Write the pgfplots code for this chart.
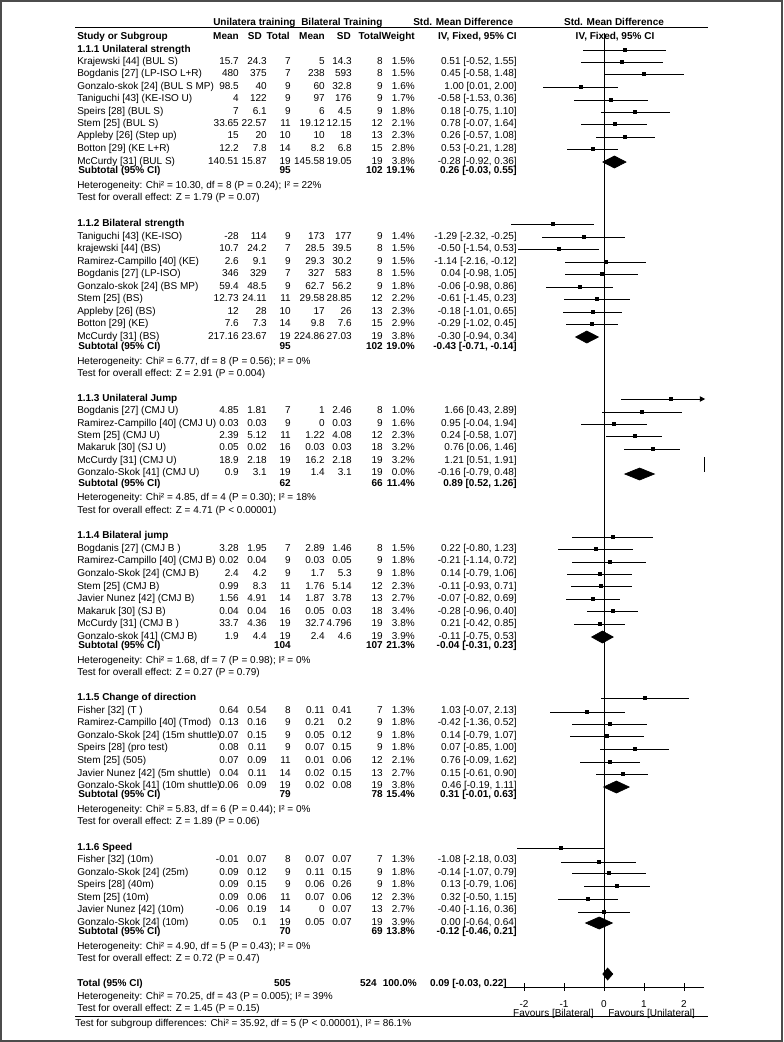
\documentclass[border=0pt]{standalone}
\usepackage{fontspec}
\setmainfont{Liberation Sans}
\usepackage{pgfplots}
\pgfplotsset{compat=1.18}
\usepackage{pgfplotstable}
\usetikzlibrary{arrows.meta}
\newcommand\fs{\fontsize{7.5pt}{9pt}\selectfont}
\newcommand\fb{\fontsize{7.5pt}{9pt}\selectfont\bfseries}

% study rows of the forest plot: y (pixel row), estimate, lower, upper
\pgfplotstableread{
y est lo hi
50 0.51 -0.52 1.55
62 0.45 -0.58 1.48
74 1.00 0.01 2.00
87 -0.58 -1.53 0.36
100 0.18 -0.75 1.10
112 0.78 -0.07 1.64
124 0.26 -0.57 1.08
137 0.53 -0.21 1.28
149 -0.28 -0.92 0.36
224 -1.29 -2.32 -0.25
237 -0.50 -1.54 0.53
249 -1.14 -2.16 -0.12
262 0.04 -0.98 1.05
274 -0.06 -0.98 0.86
287 -0.61 -1.45 0.23
299 -0.18 -1.01 0.65
312 -0.29 -1.02 0.45
324 -0.30 -0.94 0.34
412 0.95 -0.04 1.94
424 0.24 -0.58 1.07
436 0.76 0.06 1.46
449 1.21 0.51 1.91
537 0.22 -0.80 1.23
549 -0.21 -1.14 0.72
562 0.14 -0.79 1.06
574 -0.11 -0.93 0.71
586 -0.07 -0.82 0.69
599 -0.28 -0.96 0.40
611 0.21 -0.42 0.85
624 -0.11 -0.75 0.53
698 1.03 -0.07 2.13
712 -0.42 -1.36 0.52
724 0.14 -0.79 1.07
736 0.07 -0.85 1.00
749 0.76 -0.09 1.62
762 0.15 -0.61 0.90
774 0.46 -0.19 1.11
848 -1.08 -2.18 0.03
862 -0.14 -1.07 0.79
873 0.13 -0.79 1.06
886 0.32 -0.50 1.15
899 -0.40 -1.16 0.36
912 0.00 -0.64 0.64
}\studies

\newcommand\st[9]{%
  \def\yy{#1}%
  \node[anchor=base west] at (77,#1+3.7) {#2};
  \node[anchor=base east] at (239,#1+3.7) {#3};
  \node[anchor=base east] at (267,#1+3.7) {#4};
  \node[anchor=base east] at (291,#1+3.7) {#5};
  \node[anchor=base east] at (325,#1+3.7) {#6};
  \node[anchor=base east] at (352,#1+3.7) {#7};
  \node[anchor=base east] at (383,#1+3.7) {#8};
  \node[anchor=base east] at (415,#1+3.7) {#9};
  \stci}
\newcommand\stci[1]{\node[anchor=base east] at (517,\yy+3.7) {#1};}
\newcommand\sub[5]{%
  \node[anchor=base west,font=\fb] at (78,#1+3.7) {Subtotal (95\% CI)};
  \node[anchor=base east,font=\fb] at (291,#1+3.7) {#2};
  \node[anchor=base east,font=\fb] at (383,#1+3.7) {#3};
  \node[anchor=base east,font=\fb] at (415,#1+3.7) {#4};
  \node[anchor=base east,font=\fb] at (517,#1+3.7) {#5};}
\newcommand\lab[2]{\node[anchor=base west] at (77,#1+3.7) {#2};}
\newcommand\hdr[2]{\node[anchor=base west,font=\fb] at (77,#1+3.7) {#2};}

\begin{document}
\begin{tikzpicture}[x=0.75pt,y=-0.75pt,every node/.style={inner sep=0pt,font=\fs}]
\useasboundingbox (0,0) rectangle (783,1042);
\fill[white] (0,0) rectangle (783,1042);
\draw[line width=1.5pt, black!70] (1,1) rectangle (782,1041);

% headers
\node[anchor=base west,font=\fb] at (213,22+3.7) {Unilatera training};
\node[anchor=base west,font=\fb] at (301,22+3.7) {Bilateral Training};
\node[anchor=base west,font=\fb] at (413,22+3.7) {Std. Mean Difference};
\node[anchor=base,font=\fb] at (614,22+3.7) {Std. Mean Difference};
\draw[line width=0.9pt] (75,27.5) -- (708,27.5);
\node[anchor=base west,font=\fb] at (77,36+3.7) {Study or Subgroup};
\node[anchor=base east,font=\fb] at (239,36+3.7) {Mean};
\node[anchor=base east,font=\fb] at (262,36+3.7) {SD};
\node[anchor=base east,font=\fb] at (290,36+3.7) {Total};
\node[anchor=base east,font=\fb] at (325,36+3.7) {Mean};
\node[anchor=base east,font=\fb] at (351,36+3.7) {SD};
\node[anchor=base east,font=\fb] at (382,36+3.7) {Total};
\node[anchor=base east,font=\fb] at (415,36+3.7) {Weight};
\node[anchor=base east,font=\fb] at (517,36+3.7) {IV, Fixed, 95\% CI};
\node[anchor=base,font=\fb] at (615,36+3.7) {IV, Fixed, 95\% CI};

% 1.1.1
\hdr{48.5}{1.1.1 Unilateral strength}
\st{61}{Krajewski [44] (BUL S)}{15.7}{24.3}{7}{5}{14.3}{8}{1.5\%}{0.51 [-0.52, 1.55]}
\st{73}{Bogdanis [27] (LP-ISO L+R)}{480}{375}{7}{238}{593}{8}{1.5\%}{0.45 [-0.58, 1.48]}
\st{86}{Gonzalo-skok [24] (BUL S MP)}{98.5}{40}{9}{60}{32.8}{9}{1.6\%}{1.00 [0.01, 2.00]}
\st{98}{Taniguchi [43] (KE-ISO U)}{4}{122}{9}{97}{176}{9}{1.7\%}{-0.58 [-1.53, 0.36]}
\st{110.5}{Speirs [28] (BUL S)}{7}{6.1}{9}{6}{4.5}{9}{1.8\%}{0.18 [-0.75, 1.10]}
\st{123}{Stem [25] (BUL S)}{33.65}{22.57}{11}{19.12}{12.15}{12}{2.1\%}{0.78 [-0.07, 1.64]}
\st{135}{Appleby [26] (Step up)}{15}{20}{10}{10}{18}{13}{2.3\%}{0.26 [-0.57, 1.08]}
\st{148}{Botton [29] (KE L+R)}{12.2}{7.8}{14}{8.2}{6.8}{15}{2.8\%}{0.53 [-0.21, 1.28]}
\st{161}{McCurdy [31] (BUL S)}{140.51}{15.87}{19}{145.58}{19.05}{19}{3.8\%}{-0.28 [-0.92, 0.36]}
\sub{170}{95}{102}{19.1\%}{0.26 [-0.03, 0.55]}
\lab{185}{Heterogeneity: Chi² = 10.30, df = 8 (P = 0.24); I² = 22\%}
\lab{197}{Test for overall effect: Z = 1.79 (P = 0.07)}

% 1.1.2
\hdr{223}{1.1.2 Bilateral strength}
\st{235.5}{Taniguchi [43] (KE-ISO)}{-28}{114}{9}{173}{177}{9}{1.4\%}{-1.29 [-2.32, -0.25]}
\st{248}{krajewski [44] (BS)}{10.7}{24.2}{7}{28.5}{39.5}{8}{1.5\%}{-0.50 [-1.54, 0.53]}
\st{261}{Ramirez-Campillo [40] (KE)}{2.6}{9.1}{9}{29.3}{30.2}{9}{1.5\%}{-1.14 [-2.16, -0.12]}
\st{273}{Bogdanis [27] (LP-ISO)}{346}{329}{7}{327}{583}{8}{1.5\%}{0.04 [-0.98, 1.05]}
\st{286}{Gonzalo-skok [24] (BS MP)}{59.4}{48.5}{9}{62.7}{56.2}{9}{1.8\%}{-0.06 [-0.98, 0.86]}
\st{298}{Stem [25] (BS)}{12.73}{24.11}{11}{29.58}{28.85}{12}{2.2\%}{-0.61 [-1.45, 0.23]}
\st{310.5}{Appleby [26] (BS)}{12}{28}{10}{17}{26}{13}{2.3\%}{-0.18 [-1.01, 0.65]}
\st{323}{Botton [29] (KE)}{7.6}{7.3}{14}{9.8}{7.6}{15}{2.9\%}{-0.29 [-1.02, 0.45]}
\st{335.5}{McCurdy [31] (BS)}{217.16}{23.67}{19}{224.86}{27.03}{19}{3.8\%}{-0.30 [-0.94, 0.34]}
\sub{345.5}{95}{102}{19.0\%}{-0.43 [-0.71, -0.14]}
\lab{360.5}{Heterogeneity: Chi² = 6.77, df = 8 (P = 0.56); I² = 0\%}
\lab{372.5}{Test for overall effect: Z = 2.91 (P = 0.004)}

% 1.1.3
\hdr{397.5}{1.1.3 Unilateral Jump}
\st{410}{Bogdanis [27] (CMJ U)}{4.85}{1.81}{7}{1}{2.46}{8}{1.0\%}{1.66 [0.43, 2.89]}
\st{422.5}{Ramirez-Campillo [40] (CMJ U)}{0.03}{0.03}{9}{0}{0.03}{9}{1.6\%}{0.95 [-0.04, 1.94]}
\st{435}{Stem [25] (CMJ U)}{2.39}{5.12}{11}{1.22}{4.08}{12}{2.3\%}{0.24 [-0.58, 1.07]}
\st{447}{Makaruk [30] (SJ U)}{0.05}{0.02}{16}{0.03}{0.03}{18}{3.2\%}{0.76 [0.06, 1.46]}
\st{460}{McCurdy [31] (CMJ U)}{18.9}{2.18}{19}{16.2}{2.18}{19}{3.2\%}{1.21 [0.51, 1.91]}
\st{472}{Gonzalo-Skok [41] (CMJ U)}{0.9}{3.1}{19}{1.4}{3.1}{19}{0.0\%}{-0.16 [-0.79, 0.48]}
\sub{483}{62}{66}{11.4\%}{0.89 [0.52, 1.26]}
\lab{497}{Heterogeneity: Chi² = 4.85, df = 4 (P = 0.30); I² = 18\%}
\lab{509.5}{Test for overall effect: Z = 4.71 (P < 0.00001)}

% 1.1.4
\hdr{535}{1.1.4 Bilateral jump}
\st{548}{Bogdanis [27] (CMJ B )}{3.28}{1.95}{7}{2.89}{1.46}{8}{1.5\%}{0.22 [-0.80, 1.23]}
\st{560}{Ramirez-Campillo [40] (CMJ B)}{0.02}{0.04}{9}{0.03}{0.05}{9}{1.8\%}{-0.21 [-1.14, 0.72]}
\st{573}{Gonzalo-Skok [24] (CMJ B)}{2.4}{4.2}{9}{1.7}{5.3}{9}{1.8\%}{0.14 [-0.79, 1.06]}
\st{585.5}{Stem [25] (CMJ B)}{0.99}{8.3}{11}{1.76}{5.14}{12}{2.3\%}{-0.11 [-0.93, 0.71]}
\st{598}{Javier Nunez [42] (CMJ B)}{1.56}{4.91}{14}{1.87}{3.78}{13}{2.7\%}{-0.07 [-0.82, 0.69]}
\st{610.5}{Makaruk [30] (SJ B)}{0.04}{0.04}{16}{0.05}{0.03}{18}{3.4\%}{-0.28 [-0.96, 0.40]}
\st{623}{McCurdy [31] (CMJ B )}{33.7}{4.36}{19}{32.7}{4.796}{19}{3.8\%}{0.21 [-0.42, 0.85]}
\st{635.5}{Gonzalo-skok [41] (CMJ B)}{1.9}{4.4}{19}{2.4}{4.6}{19}{3.9\%}{-0.11 [-0.75, 0.53]}
\sub{644.5}{104}{107}{21.3\%}{-0.04 [-0.31, 0.23]}
\lab{659.5}{Heterogeneity: Chi² = 1.68, df = 7 (P = 0.98); I² = 0\%}
\lab{671.5}{Test for overall effect: Z = 0.27 (P = 0.79)}

% 1.1.5
\hdr{697}{1.1.5 Change of direction}
\st{709.5}{Fisher [32] (T )}{0.64}{0.54}{8}{0.11}{0.41}{7}{1.3\%}{1.03 [-0.07, 2.13]}
\st{722}{Ramirez-Campillo [40] (Tmod)}{0.13}{0.16}{9}{0.21}{0.2}{9}{1.8\%}{-0.42 [-1.36, 0.52]}
\st{735}{Gonzalo-Skok [24] (15m shuttle)}{0.07}{0.15}{9}{0.05}{0.12}{9}{1.8\%}{0.14 [-0.79, 1.07]}
\st{747}{Speirs [28] (pro test)}{0.08}{0.11}{9}{0.07}{0.15}{9}{1.8\%}{0.07 [-0.85, 1.00]}
\st{760}{Stem [25] (505)}{0.07}{0.09}{11}{0.01}{0.06}{12}{2.1\%}{0.76 [-0.09, 1.62]}
\st{772.5}{Javier Nunez [42] (5m shuttle)}{0.04}{0.11}{14}{0.02}{0.15}{13}{2.7\%}{0.15 [-0.61, 0.90]}
\st{785}{Gonzalo-Skok [41] (10m shuttle)}{0.06}{0.09}{19}{0.02}{0.08}{19}{3.8\%}{0.46 [-0.19, 1.11]}
\sub{794}{79}{78}{15.4\%}{0.31 [-0.01, 0.63]}
\lab{809}{Heterogeneity: Chi² = 5.83, df = 6 (P = 0.44); I² = 0\%}
\lab{821}{Test for overall effect: Z = 1.89 (P = 0.06)}

% 1.1.6
\hdr{846.5}{1.1.6 Speed}
\st{858.7}{Fisher [32] (10m)}{-0.01}{0.07}{8}{0.07}{0.07}{7}{1.3\%}{-1.08 [-2.18, 0.03]}
\st{871.5}{Gonzalo-Skok [24] (25m)}{0.09}{0.12}{9}{0.11}{0.15}{9}{1.8\%}{-0.14 [-1.07, 0.79]}
\st{883.5}{Speirs [28] (40m)}{0.09}{0.15}{9}{0.06}{0.26}{9}{1.8\%}{0.13 [-0.79, 1.06]}
\st{896.3}{Stem [25] (10m)}{0.09}{0.06}{11}{0.07}{0.06}{12}{2.3\%}{0.32 [-0.50, 1.15]}
\st{909}{Javier Nunez [42] (10m)}{-0.06}{0.19}{14}{0}{0.07}{13}{2.7\%}{-0.40 [-1.16, 0.36]}
\st{921.4}{Gonzalo-Skok [24] (10m)}{0.05}{0.1}{19}{0.05}{0.07}{19}{3.9\%}{0.00 [-0.64, 0.64]}
\sub{930.5}{70}{69}{13.8\%}{-0.12 [-0.46, 0.21]}
\lab{945.5}{Heterogeneity: Chi² = 4.90, df = 5 (P = 0.43); I² = 0\%}
\lab{958}{Test for overall effect: Z = 0.72 (P = 0.47)}

% total
\node[anchor=base west,font=\fb] at (77,983+3.7) {Total (95\% CI)};
\node[anchor=base east,font=\fb] at (291,983+3.7) {505};
\node[anchor=base east,font=\fb] at (377,983+3.7) {524};
\node[anchor=base east,font=\fb] at (417,983+3.7) {100.0\%};
\node[anchor=base east,font=\fb] at (507,983+3.7) {0.09 [-0.03, 0.22]};
\lab{995.5}{Heterogeneity: Chi² = 70.25, df = 43 (P = 0.005); I² = 39\%}
\lab{1008}{Test for overall effect: Z = 1.45 (P = 0.15)}
\draw[line width=0.9pt] (75,1016.5) -- (708,1016.5);
\node[anchor=base west] at (75,1023+3.7) {Test for subgroup differences: Chi² = 35.92, df = 5 (P < 0.00001), I² = 86.1\%};
\node[anchor=base east] at (594,1013+3.7) {Favours [Bilateral]};
\node[anchor=base west] at (608,1013+3.7) {Favours [Unilateral]};

% forest plot
\begin{axis}[scale only axis, width=150pt, height=781.5pt,
  at={(378pt,0pt)}, anchor=north west,
  xmin=-2.5, xmax=2.5, ymin=0, ymax=1042, y dir=reverse,
  hide axis, clip=false]
\addplot[black, line width=0.75pt] coordinates {(0,33) (0,987)};
\addplot[black, only marks, mark=square*, mark size=1.1pt,
  error bars/.cd, x dir=both, x explicit, error mark=none,
  error bar style={black, line width=0.75pt}]
  table[x=est, y=y, x error plus expr=\thisrow{hi}-\thisrow{est},
        x error minus expr=\thisrow{est}-\thisrow{lo}] {\studies};
\addplot[black, line width=0.75pt, -{Triangle[length=4pt,width=4pt]}]
  coordinates {(0.43,399) (2.53,399)};
\addplot[black, only marks, mark=square*, mark size=1.1pt] coordinates {(1.66,399)};
\addplot[black, line width=0.75pt] coordinates {(2.52,457) (2.52,472)};
% subtotal and total diamonds
\addplot[black, fill=black, line width=0.5pt] coordinates {(-0.03,162) (0.26,156) (0.55,162) (0.26,168)} -- cycle;
\addplot[black, fill=black, line width=0.5pt] coordinates {(-0.71,337) (-0.43,331) (-0.14,337) (-0.43,343)} -- cycle;
\addplot[black, fill=black, line width=0.5pt] coordinates {(0.52,474) (0.89,468) (1.26,474) (0.89,480)} -- cycle;
\addplot[black, fill=black, line width=0.5pt] coordinates {(-0.31,637) (-0.04,631) (0.23,637) (-0.04,643)} -- cycle;
\addplot[black, fill=black, line width=0.5pt] coordinates {(-0.01,787) (0.31,781) (0.63,787) (0.31,793)} -- cycle;
\addplot[black, fill=black, line width=0.5pt] coordinates {(-0.46,923) (-0.12,917) (0.21,923) (-0.12,929)} -- cycle;
\addplot[black, fill=black, line width=0.5pt] coordinates {(-0.03,974) (0.09,968) (0.22,974) (0.09,980)} -- cycle;
\end{axis}

% scale axis
\begin{axis}[scale only axis, width=150pt, height=10pt,
  at={(378pt,-740.25pt)}, anchor=south west,
  xmin=-2.5, xmax=2.5, ymin=0, ymax=1,
  axis x line=bottom, axis y line=none,
  x axis line style={-, line width=0.75pt, black},
  xtick={-2,-1,0,1,2}, xticklabels={-2,-1,0,1,2},
  tick align=center, major tick length=6pt,
  tick style={black, line width=0.75pt},
  xticklabel style={font=\fs, anchor=base, yshift=-12pt}]
\addplot[draw=none] coordinates {(0,0)};
\end{axis}
\end{tikzpicture}
\end{document}
